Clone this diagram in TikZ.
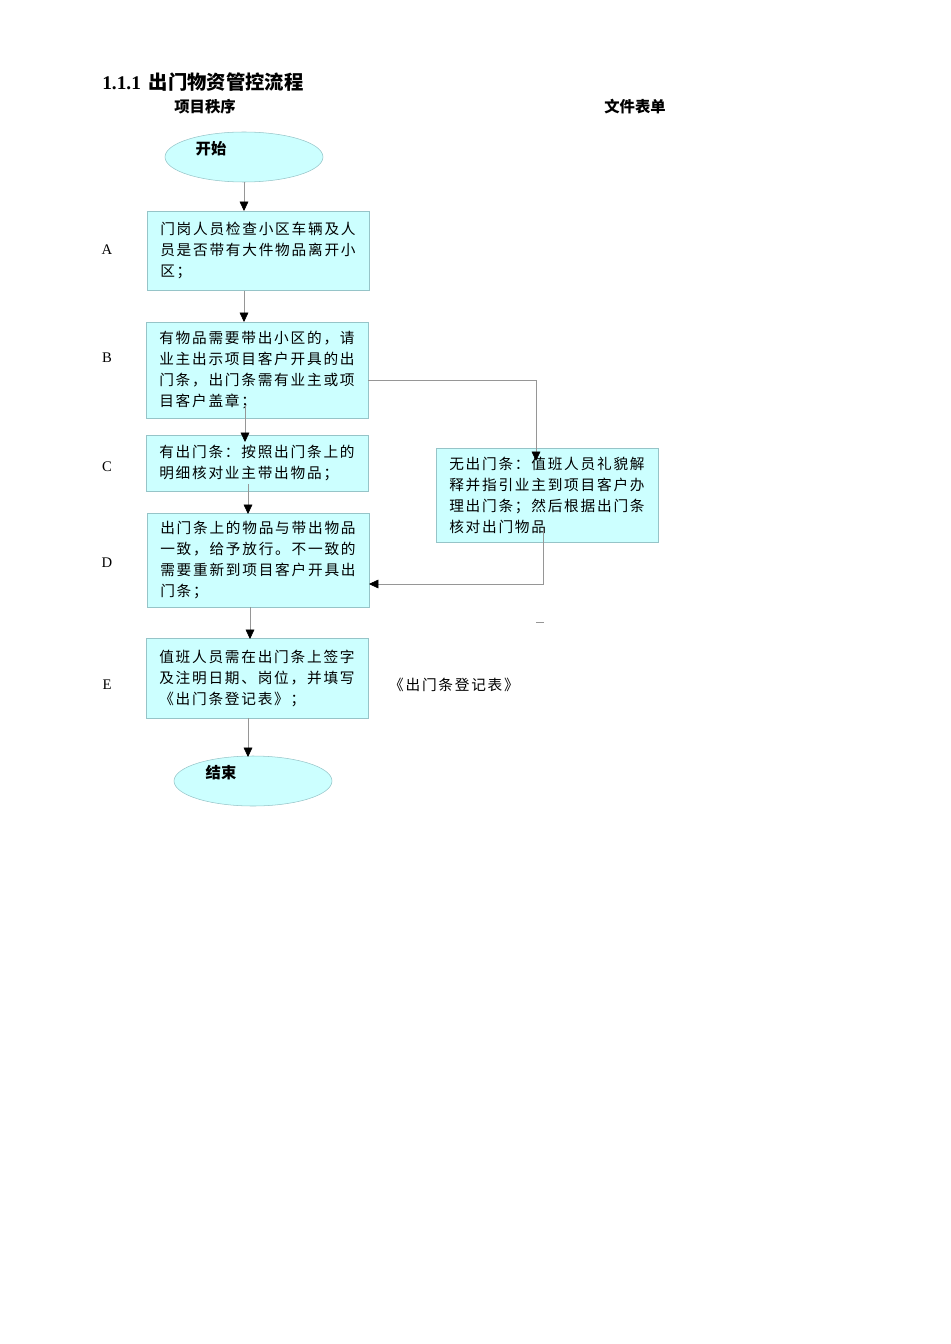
\documentclass[tikz,border=0pt]{standalone}
\usepackage{fontspec}
\setmainfont{Liberation Serif}
\newfontfamily\cjk[LetterSpace=12]{Noto Sans CJK SC}
\newfontfamily\cjkhead{Noto Sans CJK SC}
\usepackage{xcolor}
\usepackage{tikz}
\usetikzlibrary{shapes.geometric,arrows.meta}

\definecolor{boxfill}{RGB}{204,255,255}
\definecolor{boxline}{RGB}{150,196,200}
\definecolor{linegray}{RGB}{150,150,150}

\begin{document}
\begin{tikzpicture}[x=0.75pt,y=-0.75pt,
  every node/.style={inner sep=0pt},
  stepbox/.style={draw=boxline, fill=boxfill, rectangle, anchor=north west,
    minimum width=166.5pt, text width=147pt, inner xsep=9.75pt, align=left,
    font=\cjk\fontsize{11}{15.75}\selectfont},
  terminal/.style={draw=boxline, fill=boxfill, ellipse,
    minimum width=118.5pt, minimum height=37.5pt},
  headtext/.style={font=\cjkhead\bfseries\fontsize{11.5}{14}\selectfont},
  rowlabel/.style={font=\fontsize{11}{13}\selectfont},
  flow/.style={draw=linegray, -{Triangle[length=7pt,width=6.5pt,color=black]}},
  plain/.style={draw=linegray}]

\useasboundingbox (0,0) rectangle (950,1344);

% heading
\node[anchor=base west] (title) at (102,90)
  {\fontsize{14.5}{16}\selectfont\bfseries 1.1.1\hspace{6pt}{\cjkhead 出门物资管控流程}};
\node[headtext] (colleft) at (205,107) {项目秩序};
\node[headtext] (colright) at (635,107) {文件表单};

% start / end
\node[terminal, label={[headtext, xshift=-24.75pt, yshift=6pt]center:开始}] (start) at (244,157) {};
\node[terminal, label={[headtext, xshift=-24pt, yshift=6pt]center:结束}] (finish) at (253,781) {};

% steps
\node[stepbox, minimum height=59.25pt] (boxA) at (147,211)
  {门岗人员检查小区车辆及人\\员是否带有大件物品离开小\\区；};
\node[stepbox, minimum height=72pt] (boxB) at (146,322)
  {有物品需要带出小区的，请\\业主出示项目客户开具的出\\门条，出门条需有业主或项\\目客户盖章；};
\node[stepbox, minimum height=42pt] (boxC) at (146,435)
  {有出门条：按照出门条上的\\明细核对业主带出物品；};
\node[stepbox, minimum height=70.5pt] (boxD) at (147,513)
  {出门条上的物品与带出物品\\一致，给予放行。不一致的\\需要重新到项目客户开具出\\门条；};
\node[stepbox, minimum height=60pt] (boxE) at (146,638)
  {值班人员需在出门条上签字\\及注明日期、岗位，并填写\\《出门条登记表》；};
\node[stepbox, minimum height=70.5pt] (boxF) at (436,448)
  {无出门条：值班人员礼貌解\\释并指引业主到项目客户办\\理出门条；然后根据出门条\\核对出门物品};

% row letters
\node[rowlabel] (labA) at (107,250) {A};
\node[rowlabel] (labB) at (107,358) {B};
\node[rowlabel] (labC) at (107,467) {C};
\node[rowlabel] (labD) at (107,563) {D};
\node[rowlabel] (labE) at (107,685) {E};

% form
\node[font=\cjk\fontsize{11}{13}\selectfont] (formE) at (454,685) {《出门条登记表》};

% connectors
\coordinate (bcTop) at (245,405);
\coordinate (bcEnd) at (245,442);
\coordinate (cdTop) at (248,484);
\coordinate (cdEnd) at (248,514);
\coordinate (bfOut) at (368,380);
\coordinate (bfEnd) at (536,461);
\coordinate (fdTop) at (543,528);
\coordinate (fdTurn) at (543,584);
\coordinate (fdEnd) at (369,584);
\coordinate (deTop) at (250,607);
\coordinate (deEnd) at (250,639);
\coordinate (efTop) at (248,718);
\coordinate (efEnd) at (248,757);

\draw[flow] (start.south) -- (start.south |- boxA.north);
\draw[flow] (start.south |- boxA.south) -- (start.south |- boxB.north);
\draw[flow] (bcTop) -- (bcEnd);
\draw[flow] (bfOut) -| (bfEnd);
\draw[flow] (cdTop) -- (cdEnd);
\draw[flow] (fdTop) -- (fdTurn) -- (fdEnd);
\draw[flow] (deTop) -- (deEnd);
\draw[flow] (efTop) -- (efEnd);
\draw[plain] (536,622) -- (544,622);

\end{tikzpicture}
\end{document}
